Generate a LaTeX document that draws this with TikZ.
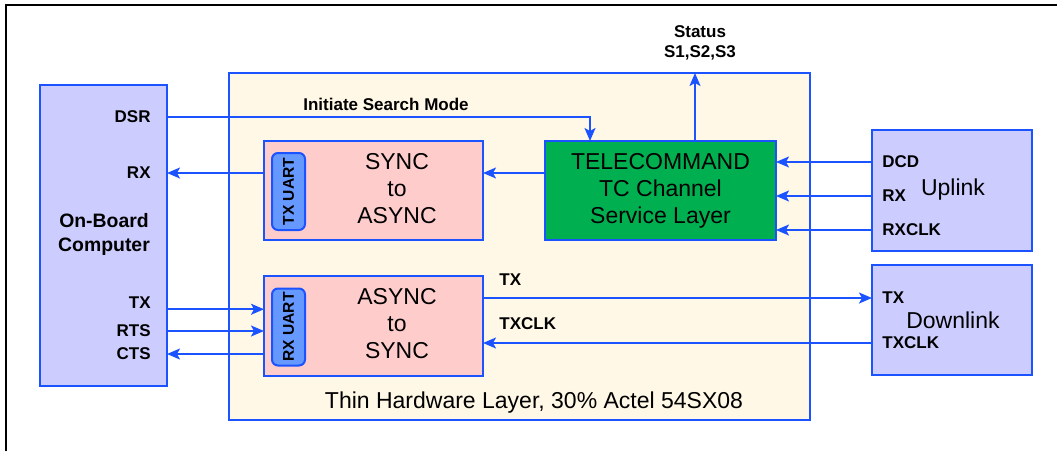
\documentclass[tikz,border=0pt]{standalone}
\usepackage{fontspec}
\setmainfont{Liberation Sans}
\usetikzlibrary{arrows.meta,positioning,calc}

\definecolor{wireBlue}{RGB}{26,83,255}
\definecolor{obcFill}{RGB}{204,204,255}
\definecolor{layerFill}{RGB}{255,248,230}
\definecolor{convFill}{RGB}{255,204,204}
\definecolor{tcFill}{RGB}{0,176,80}
\definecolor{uartFill}{RGB}{102,153,255}

\begin{document}
\begin{tikzpicture}[
            x=0.5pt, y=-0.5pt,
            box/.style={
                    draw=wireBlue,
                    rectangle,
                    line width=1pt,
                    inner sep=0pt,
                    outer sep=0pt,
                    align=center,
                    font=\fontsize{11.5}{13.5}\selectfont
                },
            uart/.style={
                    draw=wireBlue,
                    fill=uartFill,
                    rounded corners=3pt,
                    line width=1pt,
                    rotate=90,
                    inner sep=0pt,
                    minimum width=38.5pt,
                    minimum height=16.5pt,
                    font=\fontsize{7.8}{8}\selectfont\bfseries
                },
            pin/.style={
                    inner sep=0pt,
                    font=\fontsize{8.5}{10}\selectfont\bfseries
                },
            mainText/.style={
                    align=center,
                    font=\fontsize{11.5}{13.5}\selectfont
                },
            wire/.style={
            -{Stealth[length=6.5pt,width=5.5pt,inset=1.5pt]},
            draw=wireBlue,
            line width=0.9pt
            }
            ]

            \useasboundingbox (0,0) rectangle (1057,451);

            % Marco exterior
            \draw[line width=1pt] (6,451) -- (6,5) -- (1057,5);

            % 1. On-Board Computer (izquierda)
            \node[box, fill=obcFill, minimum width=63.5pt, minimum height=150.5pt] (obc) at (103.5,235.5) {};
            \node[align=center, font=\fontsize{9.7}{12}\selectfont\bfseries] (obcName) at (104,234) {On-Board\\Computer};
            \node[pin, anchor=east] (dsrPin) at (151,117) {DSR};
            \node[pin, anchor=east] (rxPin) at (151,173) {RX};
            \node[pin, anchor=east] (txPin) at (151,303) {TX};
            \node[pin, anchor=east] (rtsPin) at (151,331) {RTS};
            \node[pin, anchor=east] (ctsPin) at (151,354) {CTS};

            % 2. Thin Hardware Layer (centro)
            \node[box, fill=layerFill, minimum width=290.5pt, minimum height=173.5pt] (layer) at (519.5,246.5) {};
            \node[mainText] (layerName) at (534,403) {Thin Hardware Layer, 30\% Actel 54SX08};

            % 3. SYNC to ASYNC con TX UART
            \node[box, fill=convFill, minimum width=109.5pt, minimum height=49.5pt] (syncBox) at (373.5,190.5) {};
            \node[uart] (txUart) at (288.5,191.5) {TX UART};
            \node[mainText] (syncText) at (397,189) {SYNC\\to\\ASYNC};

            % 4. ASYNC to SYNC con RX UART
            \node[box, fill=convFill, minimum width=109.5pt, minimum height=50pt] (asyncBox) at (373.5,326) {};
            \node[uart] (rxUart) at (288.5,327) {RX UART};
            \node[mainText] (asyncText) at (397,324) {ASYNC\\to\\SYNC};

            % 5. TELECOMMAND (verde)
            \node[box, fill=tcFill, minimum width=115.5pt, minimum height=49.5pt] (tc) at (660.5,190.5) {TELECOMMAND\\TC Channel\\Service Layer};

            % 6. Uplink (derecha)
            \node[box, fill=obcFill, minimum width=80pt, minimum height=60.5pt] (uplink) at (952,190.5) {};
            \node[mainText] (uplinkName) at (953,190) {Uplink};
            \node[pin, anchor=west] (dcdPin) at (882,162) {DCD};
            \node[pin, anchor=west] (ulRxPin) at (882,196) {RX};
            \node[pin, anchor=west] (rxclkPin) at (882,230) {RXCLK};

            % 7. Downlink (derecha)
            \node[box, fill=obcFill, minimum width=80pt, minimum height=55pt] (downlink) at (952,320) {};
            \node[mainText] (downlinkName) at (953,320) {Downlink};
            \node[pin, anchor=west] (dlTxPin) at (882,298) {TX};
            \node[pin, anchor=west] (dlTxclkPin) at (882,343) {TXCLK};

            % 8. Status
            \node[align=center, font=\fontsize{8.5}{10}\selectfont\bfseries] (statusLbl) at (700,43) {Status\\S1,S2,S3};

            % --- CONEXIONES ---
            \coordinate (searchIn) at (590,141);
            \coordinate (statusOut) at (695,73);

            \draw[wire] (obc.east |- dsrPin) -| (searchIn);
            \node[pin] (searchLbl) at (386,104) {Initiate Search Mode};

            \draw[wire] (tc.north -| statusOut) -- (statusOut);

            \draw[wire] (syncBox.west |- rxPin) -- (obc.east |- rxPin);
            \draw[wire] (tc.west |- rxPin) -- (syncBox.east |- rxPin);

            \draw[wire] (obc.east |- txPin.south) -- (asyncBox.west |- txPin.south);
            \draw[wire] (obc.east |- rtsPin) -- (asyncBox.west |- rtsPin);
            \draw[wire] (asyncBox.west |- ctsPin) -- (obc.east |- ctsPin);

            \draw[wire] (uplink.west |- dcdPin) -- (tc.east |- dcdPin);
            \draw[wire] (uplink.west |- ulRxPin) -- (tc.east |- ulRxPin);
            \draw[wire] (uplink.west |- rxclkPin) -- (tc.east |- rxclkPin);

            \draw[wire] (asyncBox.east |- dlTxPin) -- (downlink.west |- dlTxPin)
            node[pin, pos=0.04, anchor=south west, yshift=6pt] (txLbl) {TX};
            \draw[wire] (downlink.west |- dlTxclkPin) -- (asyncBox.east |- dlTxclkPin)
            node[pin, pos=0.96, anchor=south west, yshift=6pt] (txclkLbl) {TXCLK};

        \end{tikzpicture}
\end{document}
